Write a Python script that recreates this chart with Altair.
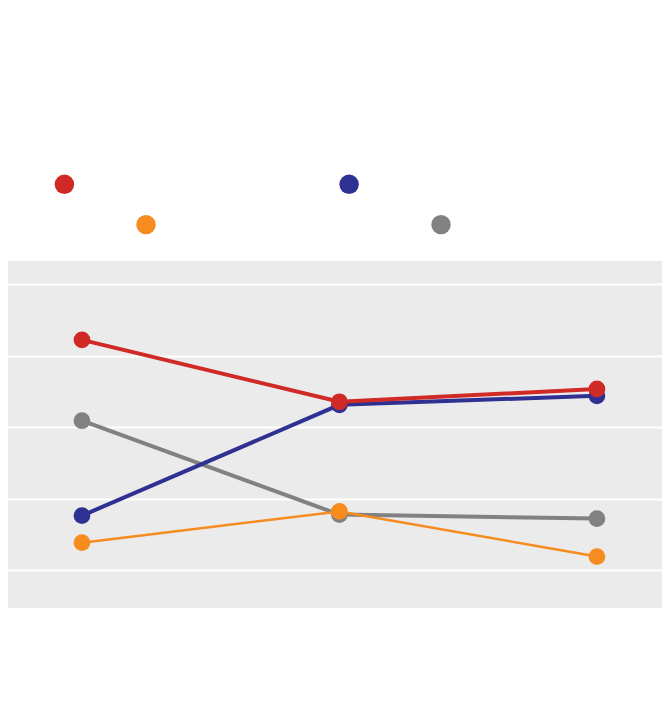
import altair as alt
import pandas as pd

# ---- data ----
periods = ["Period 1", "Period 2", "Period 3"]
series_names = ["Series A", "Series B", "Series C", "Series D"]
series_a = [4.222, 3.356, 3.535]   # red
series_b = [1.764, 3.314, 3.440]   # blue
series_c = [1.386, 1.823, 1.191]   # orange
series_d = [3.091, 1.778, 1.722]   # gray
series_colors = ["#d02a27", "#2e3192", "#f68b1f", "#818181"]
grid_values = [1, 2, 3, 4, 5]
y_domain = [0.472, 5.325]

rows = []
for name, vals in zip(series_names, [series_a, series_b, series_c, series_d]):
    for p, v in zip(periods, vals):
        rows.append({"series": name, "period": p, "value": v})
df = pd.DataFrame(rows)

x_enc = alt.X("period:N", sort=periods,
              scale=alt.Scale(type="point", padding=0.27, align=0.532), axis=None)
y_enc = alt.Y("value:Q", scale=alt.Scale(domain=y_domain, nice=False, zero=False),
              axis=alt.Axis(values=grid_values, labels=False, ticks=False, domain=False,
                            title=None, grid=True, gridColor="white", gridWidth=2))


def make_legend(lx, ly, col_pad):
    return alt.Legend(orient="none", legendX=lx, legendY=ly, direction="horizontal",
                      columns=2, title=None, labelExpr="''", labelOffset=0,
                      labelFontSize=10, symbolSize=380, symbolType="circle",
                      symbolStrokeWidth=0, columnPadding=col_pad, padding=0)


def series_layers(idx, domain, rng, width, legend):
    name = series_names[idx]
    color_pts = alt.Color("series:N", scale=alt.Scale(domain=domain, range=rng), legend=legend)
    base = alt.Chart(df).transform_filter(alt.datum.series == name)
    line = base.mark_line(strokeWidth=width, color=series_colors[idx]).encode(x=x_enc, y=y_enc)
    pts = base.mark_circle(size=280, opacity=1).encode(x=x_enc, y=y_enc, color=color_pts)
    return [line, pts]


dom1 = [series_names[0], series_names[1]]
rng1 = [series_colors[0], series_colors[1]]
dom2 = [series_names[2], series_names[3]]
rng2 = [series_colors[2], series_colors[3]]
leg1 = make_legend(46.4, -86.8, 264.7)
leg2 = make_legend(128.0, -46.5, 275.0)

group1 = alt.layer(*series_layers(1, dom1, rng1, 4, leg1),
                   *series_layers(0, dom1, rng1, 4, leg1))
group2 = alt.layer(*series_layers(3, dom2, rng2, 4, leg2),
                   *series_layers(2, dom2, rng2, 2.5, leg2))

chart = (
    alt.layer(group2, group1)
    .resolve_scale(color="independent")
    .resolve_legend(color="independent")
    .properties(width=654, height=347, autosize="none",
                padding={"left": 0, "top": 253, "right": 0, "bottom": 100},
                background="white")
    .configure_view(fill="#ebebeb", stroke=None)
)

chart.save("out.html", embed_options={"renderer": "svg", "actions": False})
